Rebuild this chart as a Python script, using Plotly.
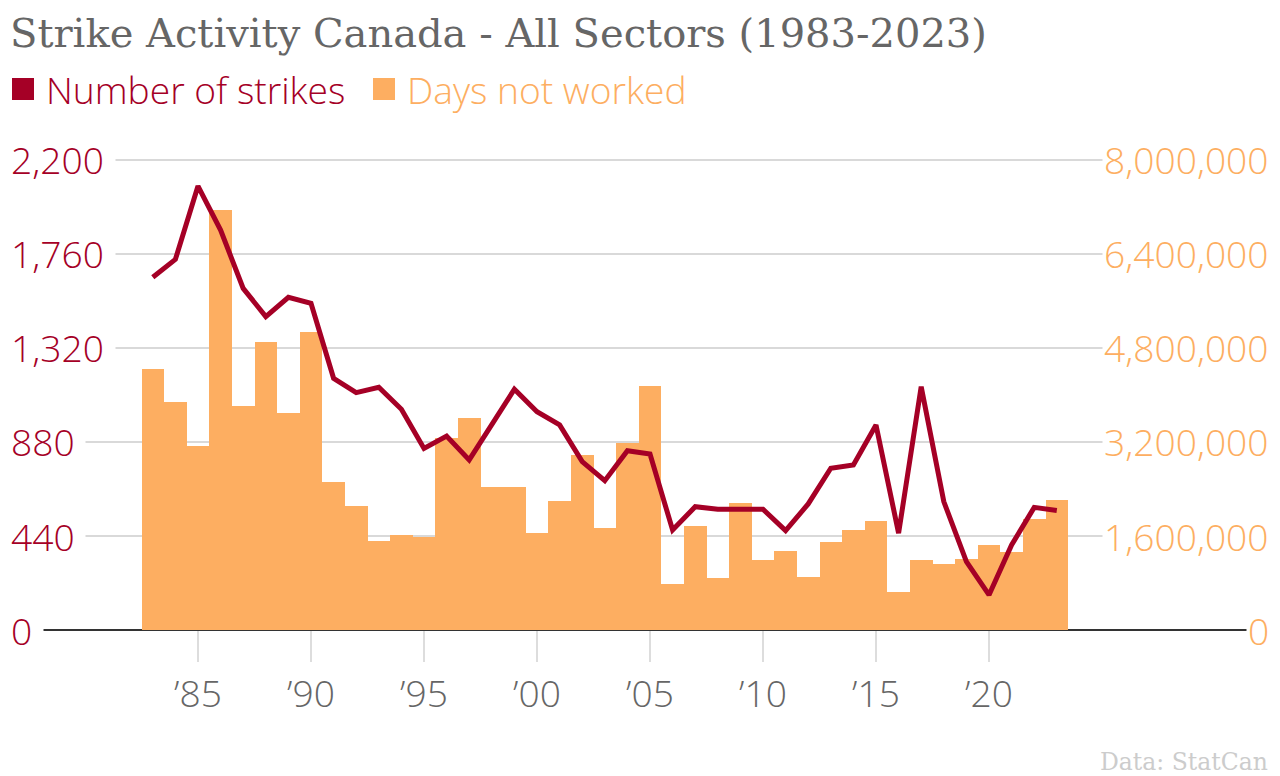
import plotly.graph_objects as go

years = list(range(1983, 2024))
strikes = [1651, 1735, 2078, 1872, 1599, 1467, 1557, 1529, 1178, 1111,
           1136, 1033, 850, 908, 796, 967, 1127, 1022, 960, 788,
           699, 839, 824, 468, 577, 565, 565, 565, 465, 590,
           757, 772, 960, 453, 1139, 601, 320, 164, 398, 574, 559]
days_not_worked = [4437000, 3880000, 3130000, 7150000, 3810000, 4900000, 3700000, 5080000, 2520000, 2110000,
                   1520000, 1610000, 1590000, 3260000, 3610000, 2440000, 2430000, 1650000, 2200000, 2980000,
                   1730000, 3180000, 4150000, 790000, 1770000, 880000, 2160000, 1200000, 1350000, 910000,
                   1500000, 1710000, 1850000, 640000, 1200000, 1130000, 1210000, 1450000, 1330000, 1890000, 2220000]

x_tickvals = [1985, 1990, 1995, 2000, 2005, 2010, 2015, 2020]
x_ticktext = ["\u201985", "\u201990", "\u201995", "\u201900", "\u201905", "\u201910", "\u201915", "\u201920"]
left_ticks = [0, 440, 880, 1320, 1760, 2200]
right_ticks = [0, 1600000, 3200000, 4800000, 6400000, 8000000]

RED = "#a50026"
ORANGE = "#fdae61"
SANS = "Open Sans"
FS = 37.2
W, H = 1280, 776

def px(x):
    return x / W

def py(y):
    return 1 - y / H

fig = go.Figure()
fig.add_trace(go.Bar(x=years, y=days_not_worked, name="Days not worked",
                     marker=dict(color=ORANGE, line=dict(width=0)), yaxis="y",
                     showlegend=False))
fig.add_trace(go.Scatter(x=years, y=strikes, name="Number of strikes", mode="lines",
                         line=dict(color=RED, width=5), yaxis="y2", showlegend=False))

annotations = []
for v in left_ticks:
    annotations.append(dict(xref="paper", yref="y2", x=px(10), y=v, xanchor="left", yanchor="middle",
                            text=f"{v:,}\u00a0", showarrow=False, bgcolor="white", borderpad=1,
                            xshift=-1,
                            font=dict(family=SANS, size=FS, color=RED, weight=300)))
for v in right_ticks:
    annotations.append(dict(xref="paper", yref="y", x=px(1270), y=v, xanchor="right", yanchor="middle",
                            text=f"{v:,}", showarrow=False, bgcolor="white", borderpad=1,
                            xshift=1,
                            font=dict(family=SANS, size=FS, color=ORANGE, weight=300)))

# legend
annotations.append(dict(xref="paper", yref="paper", x=px(44), y=py(89), xanchor="left", yanchor="middle",
                        text="Number of strikes", showarrow=False,
                        font=dict(family=SANS, size=FS, color=RED, weight=300)))
annotations.append(dict(xref="paper", yref="paper", x=px(405), y=py(89), xanchor="left", yanchor="middle",
                        text="Days not worked", showarrow=False,
                        font=dict(family=SANS, size=FS, color=ORANGE, weight=300)))
# source
annotations.append(dict(xref="paper", yref="paper", x=px(1270), y=py(762), xanchor="right", yanchor="middle",
                        text="Data: StatCan", showarrow=False,
                        font=dict(family="DejaVu Serif", size=23.5, color="#cccccc")))

shapes = [
    dict(type="rect", xref="paper", yref="paper", x0=px(12), x1=px(34), y0=py(78), y1=py(100),
         fillcolor=RED, line=dict(width=0)),
    dict(type="rect", xref="paper", yref="paper", x0=px(373), x1=px(395), y0=py(78), y1=py(100),
         fillcolor=ORANGE, line=dict(width=0)),
]

# x range: 1983 at 152.8px, 22.6 px per year, domain 10..1270 px
x0 = 1983 + (10 - 152.8) / 22.6
x1 = 1983 + (1270 - 152.8) / 22.6

# small headroom so the top gridline is drawn (top of domain at 158px)
TOP_PX = 158
scale = (630 - TOP_PX) / (630 - 160)

fig.update_layout(
    width=W, height=H,
    margin=dict(l=0, r=0, t=0, b=0),
    paper_bgcolor="white", plot_bgcolor="white",
    bargap=0,
    title=dict(text="Strike Activity Canada - All Sectors (1983-2023)", x=px(10), xanchor="left",
               y=py(33), yanchor="middle", yref="paper",
               font=dict(family="DejaVu Serif", size=40, color="#666666")),
    xaxis=dict(domain=[px(10), px(1270)], range=[x0, x1], tickvals=x_tickvals, ticktext=x_ticktext,
               ticks="outside", ticklen=31, tickcolor="#dddddd", tickwidth=1.5,
               showgrid=False, zeroline=False, showline=False,
               tickfont=dict(family=SANS, size=FS, color="#666666", weight=300)),
    yaxis=dict(domain=[py(630), py(TOP_PX)], range=[0, 8000000 * scale], tickvals=right_ticks,
               showticklabels=False, showgrid=True, gridcolor="#d9d9d9", gridwidth=1.5,
               zeroline=True, zerolinecolor="#333333", zerolinewidth=1.5, side="right"),
    yaxis2=dict(range=[0, 2200 * scale], overlaying="y", side="left", showticklabels=False,
                showgrid=False, zeroline=False),
    annotations=annotations,
    shapes=shapes,
    showlegend=False,
)

fig.write_html("out.html", config={"displayModeBar": False},
               post_script="document.body.style.margin='0';document.body.style.overflow='hidden';")
